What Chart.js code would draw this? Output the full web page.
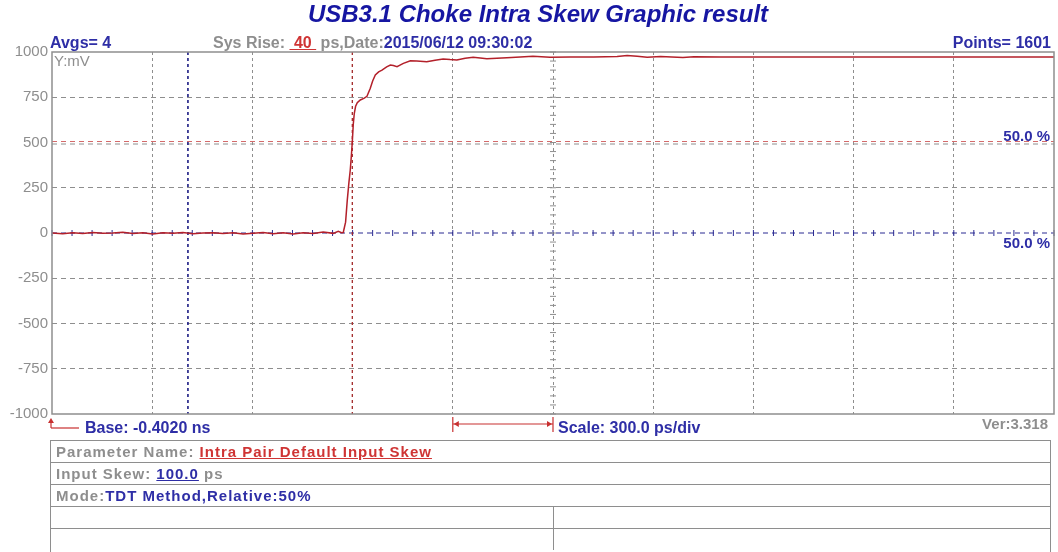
<!DOCTYPE html>
<html>
<head>
<meta charset="utf-8">
<title>USB3.1 Choke Intra Skew Graphic result</title>
<script src="https://cdn.jsdelivr.net/npm/chart.js@4/dist/chart.umd.min.js"></script>
<style>
  body { margin: 0; background: #fff; }
  #wrap { position: relative; width: 1058px; height: 552px; overflow: hidden;
          font-family: "Liberation Sans", Arial, sans-serif; font-weight: bold; }
  #wrap canvas { position: absolute; left: 0; top: 0; }
  .t { position: absolute; white-space: nowrap; font-size: 16px; line-height: 16px; }
  .blue { color: #2e2ea6; }
  .gray { color: #8e8e8e; }
  .red { color: #cf3434; }
  .u { text-decoration: underline; }
  #title { position: absolute; left: 0; width: 1076px; top: 1px; text-align: center;
           font-size: 24px; line-height: 26px; font-style: italic; color: #1616a2; }
  #tbl { position: absolute; left: 50px; top: 440px; width: 999px; height: 120px;
         border-left: 1.5px solid #8e8e8e; border-right: 1.5px solid #8e8e8e; }
  .row { position: relative; height: 21px; border-top: 1.5px solid #8e8e8e;
         font-size: 15px; line-height: 21px; letter-spacing: 1px; padding-left: 5px; }
  .split:after { content: ""; position: absolute; left: 502px; top: 0; bottom: 0;
                 border-left: 1.5px solid #8e8e8e; }
</style>
</head>
<body>
<div id="wrap">
  <canvas id="myChart" width="1058" height="552"></canvas>

  <div id="title">USB3.1 Choke Intra Skew Graphic result</div>
  <div class="t blue" style="left:50px; top:35px;">Avgs= 4</div>
  <div class="t" style="left:213px; top:35px;"><span class="gray">Sys Rise: </span><span class="red u">&nbsp;40&nbsp;</span><span class="gray"> ps,Date:</span><span class="blue">2015/06/12 09:30:02</span></div>
  <div class="t blue" style="right:7px; top:35px;">Points= 1601</div>
  <div class="t gray" style="left:54px; top:53px; font-weight:normal; font-size:15px;">Y:mV</div>
  <div class="t blue" style="right:8px; top:128px; font-size:15px;">50.0 %</div>
  <div class="t blue" style="right:8px; top:235px; font-size:15px;">50.0 %</div>
  <div class="t blue" style="left:85px; top:420px;">Base: -0.4020 ns</div>
  <div class="t blue" style="left:558px; top:420px;">Scale: 300.0 ps/div</div>
  <div class="t gray" style="right:10px; top:416px; font-size:15px;">Ver:3.318</div>

  <div id="tbl">
    <div class="row"><span class="gray">Parameter Name: </span><span class="red u">Intra Pair Default Input Skew</span></div>
    <div class="row"><span class="gray">Input Skew: </span><span class="blue u">100.0</span><span class="gray"> ps</span></div>
    <div class="row"><span class="gray">Mode:</span><span class="blue">TDT Method,Relative:50%</span></div>
    <div class="row split"></div>
    <div class="row split"></div>
  </div>
</div>

<script>
// time base (ps) and vertical scale (mV)
var baseTime = -402;
var scalePerDiv = 300;
var divisions = 10;
var yTicks = [-1000, -750, -500, -250, 0, 250, 500, 750, 1000];
var levelMv = 500;      // 50% level
var crossTime = 497;    // red marker, 50% crossing
var refTime = 5;        // blue marker

// TDT trace
var timePs = [-402, -370, -340, -310, -280, -250, -220, -190, -160, -130,
  -100, -70, -40, -10, 20, 50, 80, 110, 140, 170,
  200, 230, 260, 290, 320, 350, 380, 410, 440, 455, 465,
  470, 477, 482, 487, 491, 494, 497, 500, 503, 507,
  512, 521, 533, 541, 551, 558, 566, 576, 586, 600,
  611, 620, 631, 650, 671, 690, 720, 745, 769, 790,
  810, 835, 859, 880, 900, 930, 960, 1000, 1038, 1089,
  1150, 1220, 1290, 1320, 1350, 1380, 1420, 1487, 1520, 1600,
  1700, 1800, 1900, 2000, 2100, 2200, 2300, 2400, 2500, 2598];
var voltMv = [0, -4, 2, -3, 3, -2, 0, 4, -3, 1,
  -5, 2, -2, 3, -4, 0, 2, -3, 1, -6,
  -2, 3, -4, 2, -5, 1, -3, 6, -2, 9, 2,
  3, 60, 180, 280, 348, 420, 500, 600, 660, 700,
  720, 735, 745, 755, 800, 840, 873, 890, 900, 918,
  928, 925, 919, 937, 952, 950, 946, 955, 961, 958,
  956, 966, 971, 967, 963, 966, 968, 972, 977, 971,
  973, 972, 975, 980, 976, 971, 975, 970, 974, 973,
  972, 973, 972, 972, 973, 972, 972, 973, 972, 972];

var xGrid = [];
for (var i = 0; i <= divisions; i++) xGrid.push(baseTime + i * scalePerDiv);

var points = timePs.map(function (t, i) { return { x: t, y: voltMv[i] }; });

function line(ctx, x1, y1, x2, y2, color, dash, width) {
  ctx.save();
  ctx.strokeStyle = color;
  ctx.lineWidth = width || 1;
  ctx.setLineDash(dash || []);
  ctx.beginPath();
  ctx.moveTo(x1, y1);
  ctx.lineTo(x2, y2);
  ctx.stroke();
  ctx.restore();
}

function head(ctx, x, y, dx, dy, color) {
  // small filled arrow head, tip at x,y
  ctx.save();
  ctx.fillStyle = color;
  ctx.beginPath();
  ctx.moveTo(x, y);
  ctx.lineTo(x - dx * 5 - dy * 3, y - dy * 5 - dx * 3);
  ctx.lineTo(x - dx * 5 + dy * 3, y - dy * 5 + dx * 3);
  ctx.closePath();
  ctx.fill();
  ctx.restore();
}

var overlay = {
  id: "overlay",
  beforeDatasetsDraw: function (chart) {
    var ctx = chart.ctx, a = chart.chartArea;
    var xs = chart.scales.x, ys = chart.scales.y;

    // 50 % level (red over grey)
    var y50 = ys.getPixelForValue(levelMv);
    line(ctx, a.left, y50 - 1, a.right, y50 - 1, "#d46a6a", [5, 4]);
    line(ctx, a.left, y50 + 1.5, a.right, y50 + 1.5, "#8e8e8e", [5, 4]);

    // zero line with minor ticks
    var y0 = ys.getPixelForValue(0);
    line(ctx, a.left, y0, a.right, y0, "#2a2a92", [5, 4]);
    for (var t = baseTime; t <= baseTime + divisions * scalePerDiv; t += scalePerDiv / 5) {
      var px = xs.getPixelForValue(t);
      line(ctx, px, y0 - 3, px, y0 + 3, "#2a2a92");
    }

    // centre vertical with minor ticks
    var xc = xs.getPixelForValue(baseTime + divisions / 2 * scalePerDiv);
    for (var v = -1000; v <= 1000; v += 50) {
      var py = ys.getPixelForValue(v);
      line(ctx, xc - 3, py, xc + 3, py, "#8e8e8e");
    }

    // markers
    var xr = xs.getPixelForValue(crossTime);
    line(ctx, xr, a.top, xr, a.bottom, "#a82424", [3, 3], 1.2);
    var xb = xs.getPixelForValue(refTime);
    line(ctx, xb, a.top, xb, a.bottom, "#1c1c84", [3, 3], 1.6);
  },
  afterDraw: function (chart) {
    var ctx = chart.ctx, a = chart.chartArea, xs = chart.scales.x;
    var red = "#c83030";

    // frame
    ctx.save();
    ctx.strokeStyle = "#8e8e8e";
    ctx.lineWidth = 1.5;
    ctx.strokeRect(a.left, a.top, a.right - a.left, a.bottom - a.top);
    ctx.restore();

    // base arrow
    line(ctx, a.left - 1, a.bottom + 8, a.left - 1, a.bottom + 14, red, [], 1.2);
    head(ctx, a.left - 1, a.bottom + 4, 0, -1, red);
    line(ctx, a.left - 1, a.bottom + 14, a.left + 27, a.bottom + 14, red, [], 1.2);

    // scale bracket, one division
    var x1 = xs.getPixelForValue(baseTime + 4 * scalePerDiv);
    var x2 = xs.getPixelForValue(baseTime + 5 * scalePerDiv);
    var yb = a.bottom + 10;
    line(ctx, x1, yb, x2, yb, red, [], 1.2);
    line(ctx, x1, a.bottom + 3, x1, a.bottom + 18, red, [], 1.2);
    line(ctx, x2, a.bottom + 3, x2, a.bottom + 18, red, [], 1.2);
    head(ctx, x1 + 1, yb, -1, 0, red);
    head(ctx, x2 - 1, yb, 1, 0, red);
  }
};

var ctx = document.getElementById("myChart").getContext("2d");
var chart = new Chart(ctx, {
  type: "line",
  data: {
    datasets: [{
      label: "TDT",
      data: points,
      borderColor: "#b3202a",
      borderWidth: 1.5,
      pointRadius: 0,
      tension: 0,
      fill: false
    }]
  },
  options: {
    responsive: false,
    animation: false,
    layout: { padding: { top: 52, right: 4, bottom: 138, left: 0 } },
    plugins: { legend: { display: false }, tooltip: { enabled: false } },
    scales: {
      x: {
        type: "linear",
        min: xGrid[0],
        max: xGrid[xGrid.length - 1],
        afterBuildTicks: function (s) { s.ticks = xGrid.map(function (v) { return { value: v }; }); },
        afterFit: function (s) { s.height = 0; },
        ticks: { display: false },
        grid: {
          drawTicks: false,
          lineWidth: 1,
          color: function (c) { return (c.index === 0 || c.index === divisions) ? "transparent" : "#8e8e8e"; }
        },
        border: { display: false, dash: [3, 3] }
      },
      y: {
        min: -1000,
        max: 1000,
        afterBuildTicks: function (s) { s.ticks = yTicks.map(function (v) { return { value: v }; }); },
        afterFit: function (s) { s.width = 52; },
        ticks: {
          color: "#8e8e8e",
          padding: 4,
          font: { family: "Liberation Sans", size: 15 },
          callback: function (v) { return String(v); }
        },
        grid: {
          drawTicks: false,
          lineWidth: 1,
          color: function (c) {
            var v = c.tick ? c.tick.value : null;
            return (v === 1000 || v === -1000 || v === 0 || v === levelMv) ? "transparent" : "#8e8e8e";
          }
        },
        border: { display: false, dash: [5, 4] }
      }
    }
  },
  plugins: [overlay]
});
</script>
</body>
</html>
